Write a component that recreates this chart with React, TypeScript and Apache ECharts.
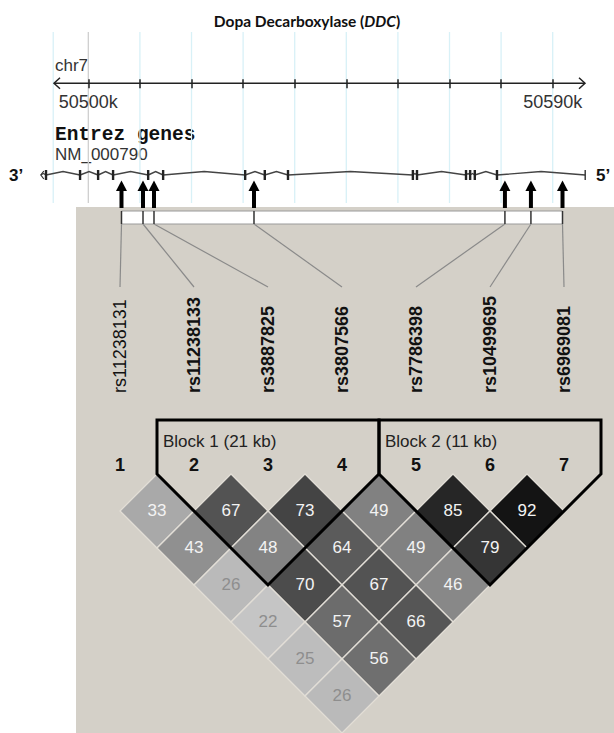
import React, { useEffect, useRef } from 'react';
import * as echarts from 'echarts';

// ---------- data ----------
const titleText = 'Dopa Decarboxylase (';
const titleGene = 'DDC';
const chromName = 'chr7';
const trackName = 'Entrez genes';
const transcriptName = 'NM_000790';
const strandLeft = '3\u2019';
const strandRight = '5\u2019';

// genomic window shown on the chromosome ruler (kb)
const viewKb = [50493.35, 50596.26];
const rulerTickKb = [50500, 50510, 50520, 50530, 50540, 50550, 50560, 50570, 50580, 50590];
const rulerLabelKb = [50500, 50590];
const gridlineKb = [50493.2, 50500, 50510, 50520, 50530, 50540, 50550, 50560, 50570, 50580, 50590];

// NM_000790 gene model (kb)
const geneSpanKb = [50490.8, 50596.3];
const exonKb = [50491.8, 50498.4, 50501.9, 50504.8, 50511.6, 50514.5, 50530.4, 50534.2, 50538.7,
  50562.9, 50563.7, 50573.2, 50574.0, 50574.9, 50579.2];

// genotyped SNPs
const snpNames = ['rs11238131', 'rs11238133', 'rs3887825', 'rs3807566', 'rs7786398', 'rs10499695', 'rs6969081'];
const snpKb = [50506.43, 50510.6, 50512.73, 50532.11, 50580.74, 50585.78, 50591.9];

// pairwise LD (r² x 100); ldRowK[i] is the pair (SNP i+1, SNP i+1+K)
const ldRow1 = [33, 67, 73, 49, 85, 92];
const ldRow2 = [43, 48, 64, 49, 79];
const ldRow3 = [26, 70, 67, 46];
const ldRow4 = [22, 57, 66];
const ldRow5 = [25, 56];
const ldRow6 = [26];

// haplotype blocks (first SNP, last SNP)
const blockSnps = [[2, 4], [5, 7]];
const blockLabels = ['Block 1 (21 kb)', 'Block 2 (11 kb)'];

// ---------- layout ----------
const W = 614;
const H = 733;
const G_LEFT = 54;
const G_RIGHT = 585;
const RULER_Y = 83.3;
const GRID_TOP_Y = 32;
const GRID_BOT_Y = 203;
const GENE_Y = 175;
const ARROW_TIP_Y = 180.5;
const ARROW_BOT_Y = 208;
const BAR_TOP = 211;
const BAR_BOT = 224;
const LINK_BOT = 287;
const LD_LEFT = 83;
const LD_RIGHT = 601;
const LD_TOP = 474;
const ROW_H = 37;
const ROWS = 7;
const ROW_BLOCK_TOP = (420 - LD_TOP) / ROW_H;
const ROW_BLOCK_LABEL = (441 - LD_TOP) / ROW_H;
const ROW_NUMBERS = (465 - LD_TOP) / ROW_H;
const ROW_SNP_LABEL = (393 - LD_TOP) / ROW_H;

const SANS = '"Liberation Sans", Arial, sans-serif';
const MONO = '"Liberation Mono", "Courier New", monospace';

const ldRows = [ldRow1, ldRow2, ldRow3, ldRow4, ldRow5, ldRow6];
const ldPairs: number[][] = [];
ldRows.forEach((row, k) => {
  row.forEach((v, i) => {
    ldPairs.push([i + 1, i + 2 + k, v]);
  });
});

const ldFill = (v: number) => {
  const g = Math.round(252 * (1 - v / 100));
  return `rgb(${g},${g},${g})`;
};

function baseGraphic() {
  return [
    {
      type: 'rect', id: 'panel', z: -1, silent: true,
      shape: { x: 76, y: 207, width: W - 76, height: H - 207 },
      style: { fill: '#d4d0c8' },
    },
    {
      type: 'text', id: 'chr', x: 55, y: 65.5,
      style: { text: chromName, font: `17px ${SANS}`, fill: '#333', align: 'left', verticalAlign: 'middle' },
    },
    {
      type: 'text', id: 'track', x: 55, y: 135,
      style: { text: trackName, font: `bold 19.5px ${MONO}`, fill: '#111', align: 'left', verticalAlign: 'middle' },
    },
    {
      type: 'text', id: 'nm', x: 55, y: 154.5,
      style: { text: transcriptName, font: `17px ${SANS}`, fill: '#333', align: 'left', verticalAlign: 'middle' },
    },
    {
      type: 'text', id: 's3', x: 9, y: 175.5,
      style: { text: strandLeft, font: `bold 17px ${SANS}`, fill: '#111', align: 'left', verticalAlign: 'middle' },
    },
    {
      type: 'text', id: 's5', x: 596, y: 175.5,
      style: { text: strandRight, font: `bold 17px ${SANS}`, fill: '#111', align: 'left', verticalAlign: 'middle' },
    },
  ];
}

export default function App() {
  const ref = useRef<HTMLDivElement>(null);

  useEffect(() => {
    if (!ref.current) return;
    const chart = echarts.init(ref.current, null, { renderer: 'svg' });

    const option: any = {
      animation: false,
      backgroundColor: '#ffffff',
      title: {
        text: `{b|${titleText}}{i|${titleGene}}{b|)}`,
        left: 'center',
        top: 8,
        textStyle: {
          rich: {
            b: { fontFamily: 'Lato, sans-serif', fontWeight: 'bold', fontSize: 15.5, color: '#111' },
            i: { fontFamily: 'Lato, sans-serif', fontWeight: 'bold', fontStyle: 'italic', fontSize: 15.5, color: '#111' },
          },
        },
      },
      grid: [
        { left: G_LEFT, width: G_RIGHT - G_LEFT, top: GRID_TOP_Y, height: RULER_Y - GRID_TOP_Y },
        { left: LD_LEFT, width: LD_RIGHT - LD_LEFT, top: LD_TOP, height: ROW_H * ROWS },
      ],
      xAxis: [
        {
          gridIndex: 0, type: 'value', min: viewKb[0], max: viewKb[1], position: 'bottom',
          axisLine: { show: false },
          axisTick: { show: true, customValues: rulerTickKb, length: 5, lineStyle: { color: '#222', width: 1.5 } },
          axisLabel: {
            show: true, customValues: rulerLabelKb, margin: 10,
            formatter: (v: number) => `${Math.round(v)}k`,
            fontFamily: SANS, fontSize: 18, color: '#333',
          },
          splitLine: { show: false },
        },
        {
          gridIndex: 0, type: 'value', min: viewKb[0], max: viewKb[1], position: 'bottom',
          axisLine: { show: false },
          axisTick: { show: true, inside: true, customValues: rulerTickKb, length: 4, lineStyle: { color: '#222', width: 1.5 } },
          axisLabel: { show: false },
          splitLine: { show: false },
        },
        {
          gridIndex: 1, type: 'value', min: 0.5, max: 7.5, show: false,
        },
      ],
      yAxis: [
        { gridIndex: 0, type: 'value', min: 0, max: 1, show: false },
        { gridIndex: 1, type: 'value', min: 0, max: ROWS, inverse: true, show: false },
      ],
      series: [
        // light gridlines of the genome browser
        {
          type: 'custom', name: 'gridlines', xAxisIndex: 0, yAxisIndex: 0, z: 0, silent: true,
          data: gridlineKb.map((v) => [v, 0]),
          renderItem: (params: any, api: any) => {
            const x = api.coord([api.value(0), 0])[0];
            const grey = api.value(0) === 50500;
            return {
              type: 'line',
              shape: { x1: x, y1: GRID_TOP_Y, x2: x, y2: GRID_BOT_Y },
              style: { stroke: grey ? '#cfcfcf' : '#d8f1f7', lineWidth: 1.3 },
            };
          },
        },
        // chromosome ruler line with open arrow heads
        {
          type: 'custom', name: 'ruler', xAxisIndex: 0, yAxisIndex: 0, z: 3, silent: true,
          data: [[viewKb[0], viewKb[1]]],
          renderItem: (params: any, api: any) => {
            const x1 = api.coord([api.value(0), 0])[0];
            const x2 = api.coord([api.value(1), 0])[0];
            const y = RULER_Y;
            const st = { stroke: '#222', lineWidth: 1.5, fill: 'none' };
            return {
              type: 'group',
              children: [
                { type: 'line', shape: { x1, y1: y, x2, y2: y }, style: st },
                { type: 'polyline', shape: { points: [[x1 + 6, y - 5.5], [x1, y], [x1 + 6, y + 5.5]] }, style: st },
                { type: 'polyline', shape: { points: [[x2 - 6, y - 5.5], [x2, y], [x2 - 6, y + 5.5]] }, style: st },
              ],
            };
          },
        },
        // gene model
        {
          type: 'custom', name: transcriptName, xAxisIndex: 0, yAxisIndex: 0, z: 3, silent: true,
          data: [[geneSpanKb[0], geneSpanKb[1]]],
          renderItem: (params: any, api: any) => {
            const px = (kb: number) => api.coord([kb, 0])[0];
            const y = GENE_Y;
            const xs = px(geneSpanKb[0]);
            const xe = px(geneSpanKb[1]);
            const stops = [geneSpanKb[0], ...exonKb, geneSpanKb[1]].map(px);
            const children: any[] = [];
            for (let k = 0; k < stops.length - 1; k++) {
              const a = stops[k];
              const b = stops[k + 1];
              const m = (a + b) / 2;
              const h = b - a > 8 ? 3.5 : 1.5;
              children.push({
                type: 'polyline',
                shape: { points: [[a, y], [m, y - h], [b, y]] },
                style: { stroke: '#444', lineWidth: 1.4, fill: 'none' },
              });
            }
            exonKb.forEach((kb) => {
              const x = px(kb);
              children.push({
                type: 'line', shape: { x1: x, y1: y - 5, x2: x, y2: y + 5 },
                style: { stroke: '#222', lineWidth: 2.4 },
              });
            });
            // start bracket and end cap
            children.push({
              type: 'polyline', shape: { points: [[xs + 3, y - 4], [xs, y], [xs + 3, y + 4]] },
              style: { stroke: '#333', lineWidth: 1.2, fill: 'none' },
            });
            children.push({
              type: 'line', shape: { x1: xe, y1: y - 5, x2: xe, y2: y + 5 },
              style: { stroke: '#333', lineWidth: 1.4 },
            });
            return { type: 'group', children };
          },
        },
        // SNP arrows
        {
          type: 'custom', name: 'snp arrows', xAxisIndex: 0, yAxisIndex: 0, z: 4, silent: true,
          data: snpKb.map((v) => [v, 0]),
          renderItem: (params: any, api: any) => {
            const x = api.coord([api.value(0), 0])[0];
            return {
              type: 'group',
              children: [
                { type: 'rect', shape: { x: x - 2, y: ARROW_TIP_Y + 9, width: 4, height: ARROW_BOT_Y - ARROW_TIP_Y - 9 }, style: { fill: '#000' } },
                { type: 'polygon', shape: { points: [[x, ARROW_TIP_Y], [x - 5.5, ARROW_TIP_Y + 10.5], [x + 5.5, ARROW_TIP_Y + 10.5]] }, style: { fill: '#000' } },
              ],
            };
          },
        },
        // white marker bar with SNP dividers
        {
          type: 'custom', name: 'marker bar', xAxisIndex: 0, yAxisIndex: 0, z: 3, silent: true,
          data: [[snpKb[0], snpKb[snpKb.length - 1]]],
          renderItem: (params: any, api: any) => {
            const px = (kb: number) => api.coord([kb, 0])[0];
            const x1 = px(api.value(0));
            const x2 = px(api.value(1));
            const children: any[] = [
              { type: 'rect', shape: { x: x1, y: BAR_TOP, width: x2 - x1, height: BAR_BOT - BAR_TOP }, style: { fill: '#ffffff', stroke: '#9a9a9a', lineWidth: 1 } },
            ];
            snpKb.forEach((kb) => {
              const x = px(kb);
              children.push({ type: 'line', shape: { x1: x, y1: BAR_TOP, x2: x, y2: BAR_BOT }, style: { stroke: '#333', lineWidth: 1.5 } });
            });
            return { type: 'group', children };
          },
        },
        // LD diamonds
        {
          type: 'custom', name: 'LD', xAxisIndex: 2, yAxisIndex: 1, z: 3, silent: true,
          data: ldPairs,
          renderItem: (params: any, api: any) => {
            const i = api.value(0);
            const j = api.value(1);
            const v = api.value(2);
            const c = (i + j) / 2;
            const r = j - i;
            const pts = [api.coord([c - 0.5, r]), api.coord([c, r - 1]), api.coord([c + 0.5, r]), api.coord([c, r + 1])];
            const ctr = api.coord([c, r]);
            return {
              type: 'group',
              children: [
                { type: 'polygon', shape: { points: pts }, style: { fill: ldFill(v), stroke: '#e2ded6', lineWidth: 1.3 } },
                {
                  type: 'text', x: ctr[0], y: ctr[1] - 1,
                  style: { text: String(v), font: `17px ${SANS}`, fill: v < 30 ? '#8e8e8e' : '#f3f3f3', align: 'center', verticalAlign: 'middle' },
                },
              ],
            };
          },
        },
        // haplotype block outlines
        {
          type: 'custom', name: 'blocks', xAxisIndex: 2, yAxisIndex: 1, z: 5, silent: true,
          data: blockSnps.map((b, k) => [b[0], b[1], k]),
          renderItem: (params: any, api: any) => {
            const s = api.value(0);
            const e = api.value(1);
            const k = api.value(2);
            const pts = [
              api.coord([s - 0.5, ROW_BLOCK_TOP]),
              api.coord([s - 0.5, 0]),
              api.coord([(s + e) / 2, e - s + 1]),
              api.coord([e + 0.5, 0]),
              api.coord([e + 0.5, ROW_BLOCK_TOP]),
            ];
            const lab = api.coord([s - 0.5, ROW_BLOCK_LABEL]);
            return {
              type: 'group',
              children: [
                { type: 'polygon', shape: { points: pts }, style: { fill: 'none', stroke: '#000', lineWidth: 3, lineJoin: 'miter' } },
                {
                  type: 'text', x: lab[0] + 6, y: lab[1],
                  style: { text: blockLabels[k], font: `17px ${SANS}`, fill: '#222', align: 'left', verticalAlign: 'middle' },
                },
              ],
            };
          },
        },
        // SNP numbers
        {
          type: 'custom', name: 'snp numbers', xAxisIndex: 2, yAxisIndex: 1, z: 5, silent: true,
          data: snpNames.map((n, k) => [k + 1, 0]),
          renderItem: (params: any, api: any) => {
            const p = api.coord([api.value(0), ROW_NUMBERS]);
            return {
              type: 'text', x: p[0], y: p[1],
              style: { text: String(api.value(0)), font: `bold 18px ${SANS}`, fill: '#111', align: 'center', verticalAlign: 'middle' },
            };
          },
        },
        // SNP names (rotated)
        {
          type: 'custom', name: 'snp names', xAxisIndex: 2, yAxisIndex: 1, z: 5, silent: true,
          data: snpNames.map((n, k) => [k + 1, 0]),
          renderItem: (params: any, api: any) => {
            const idx = api.value(0);
            const p = api.coord([idx, ROW_SNP_LABEL]);
            return {
              type: 'text', x: p[0], y: p[1], rotation: Math.PI / 2,
              style: {
                text: snpNames[idx - 1],
                font: `${idx === 1 ? 'normal' : 'bold'} 18px ${SANS}`,
                fill: '#111', align: 'left', verticalAlign: 'middle',
              },
            };
          },
        },
      ],
      graphic: baseGraphic(),
    };

    chart.setOption(option);

    // connector lines from the marker bar (genomic scale) to the evenly spaced SNP names (LD scale)
    const links = snpKb.map((kb, k) => {
      const xTop = chart.convertToPixel({ xAxisIndex: 0 } as any, kb) as unknown as number;
      const xBot = chart.convertToPixel({ xAxisIndex: 2 } as any, k + 1) as unknown as number;
      return {
        type: 'line', id: `link${k}`, z: 1, silent: true,
        shape: { x1: xTop, y1: BAR_BOT, x2: xBot, y2: LINK_BOT },
        style: { stroke: '#8a8a8a', lineWidth: 1.2 },
      };
    });
    chart.setOption({ graphic: [...baseGraphic(), ...links] });

    return () => chart.dispose();
  }, []);

  return (
    <div
      ref={ref}
      style={{ position: 'absolute', left: 0, top: 0, width: W, height: H }}
    />
  );
}
